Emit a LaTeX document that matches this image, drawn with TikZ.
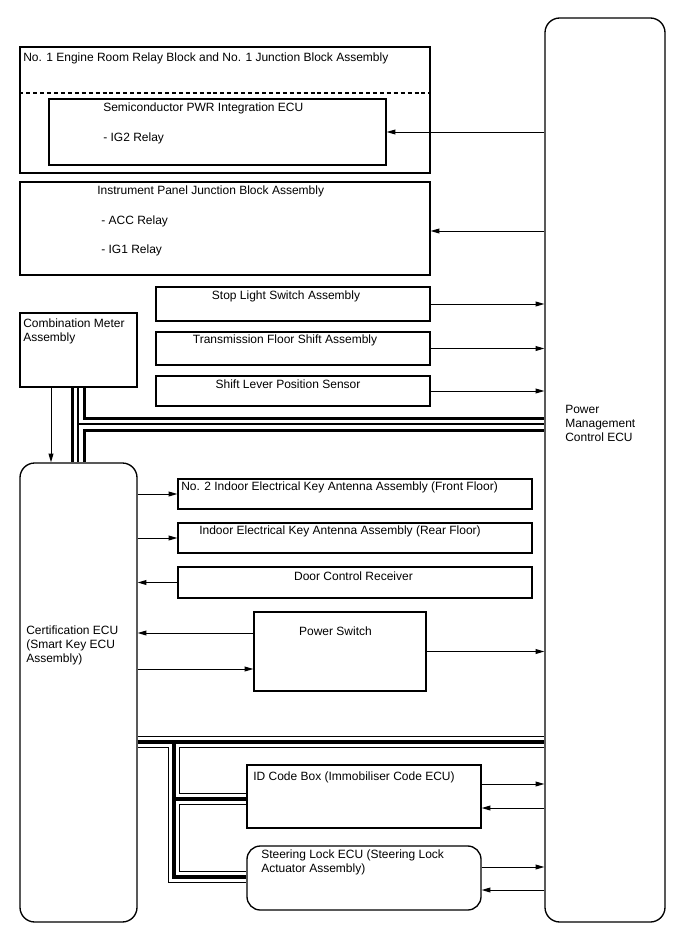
\documentclass[tikz,border=0pt]{standalone}
\usepackage{fontspec}
\setmainfont{Liberation Sans}
\usepackage{tikz}
\usetikzlibrary{positioning,arrows.meta,fit,backgrounds,calc}
\tikzset{
  unit/.style={draw,line width=1pt,inner sep=0pt},
  ecu/.style={unit,rounded corners=11pt},
  lbl/.style={inner sep=0pt,align=left},
  wire/.style={->,line width=0.75pt},
}

\begin{document}
\begin{tikzpicture}[x=0.75pt,y=-0.75pt,font=\fontsize{9}{10.5}\selectfont,
    >={Triangle[length=6.5pt,width=3.6pt]}]
  \useasboundingbox (0,0) rectangle (688,949);
  % power management ECU on the right
  \node[ecu,fit={(545,18) (665,922)}] (pmc) {};
  \node[lbl,anchor=west] (pmclbl) at (565,423) {Power\\Management\\Control ECU};
  % relay blocks
  \node[unit,fit={(20,47) (430,173)}] (erb) {};
  \node[lbl,anchor=west] (erblbl) at (23,58) {No. 1 Engine Room Relay Block and No. 1 Junction Block Assembly};
  \draw[dash pattern=on 3pt off 2.2pt,line width=0.8pt] (erb.west |- 0,93) -- (erb.east |- 0,93);
  \node[unit,fit={(49,99) (386,165)}] (semi) {};
  \node[lbl,anchor=west] (semilbl) at (103,108) {Semiconductor PWR Integration ECU};
  \node[lbl,anchor=west] (ig2) at (103,138) {- IG2 Relay};
  \node[unit,fit={(20,182) (430,275)}] (ipjb) {};
  \node[lbl,anchor=west] (ipjblbl) at (97,191) {Instrument Panel Junction Block Assembly};
  \node[lbl,anchor=west] (acc) at (101,221) {- ACC Relay};
  \node[lbl,anchor=west] (ig1) at (101,250) {- IG1 Relay};
  % switches and sensors
  \node[unit,fit={(156,287) (430,321)}] (stop) {};
  \node[lbl] (stoplbl) at (286,296) {Stop Light Switch Assembly};
  \node[unit,fit={(156,332) (430,365)}] (trans) {};
  \node[lbl] (translbl) at (285,340) {Transmission Floor Shift Assembly};
  \node[unit,fit={(156,376) (430,406)}] (shift) {};
  \node[lbl] (shiftlbl) at (288,384) {Shift Lever Position Sensor};
  \node[unit,fit={(20,313) (137,387)}] (meter) {};
  \node[lbl,anchor=west] (meterlbl) at (23,331) {Combination Meter\\Assembly};
  % certification ECU and its parts
  \node[ecu,fit={(20,463) (137,922)}] (cert) {};
  \node[lbl,anchor=west] (certlbl) at (26,645) {Certification ECU\\(Smart Key ECU\\Assembly)};
  \node[unit,fit={(178,479) (532,509)}] (ant2) {};
  \node[lbl,anchor=west] (ant2lbl) at (181,487) {No. 2 Indoor Electrical Key Antenna Assembly (Front Floor)};
  \node[unit,fit={(178,523) (532,553)}] (ant1) {};
  \node[lbl] (ant1lbl) at (340,531) {Indoor Electrical Key Antenna Assembly (Rear Floor)};
  \node[unit,fit={(178,567) (532,598)}] (dcr) {};
  \node[lbl] (dcrlbl) at (353.5,576) {Door Control Receiver};
  \node[unit,fit={(254,612) (426,691)}] (psw) {};
  \node[lbl] (pswlbl) at (335.5,631) {Power Switch};
  \node[unit,fit={(247,765) (481,828)}] (idbox) {};
  \node[lbl,anchor=west] (idlbl) at (253,777) {ID Code Box (Immobiliser Code ECU)};
  \node[unit,rounded corners=10pt,fit={(247,846) (481,910)}] (slock) {};
  \node[lbl,anchor=west] (slocklbl) at (261,862) {Steering Lock ECU (Steering Lock\\Actuator Assembly)};

  % communication lines, drawn in layers
  \begin{scope}[on background layer]
    \foreach \w/\c in {15/black,9/white,1.2/black}
      \draw[line width=\w*0.75pt,\c] (meter.south -| 78,0) -- (cert.north -| 78,0)
        (78,424) -- (pmc.west |- 0,424);
    \foreach \w/\c in {12/black,10/white,3.3/black}
      \draw[line width=\w*0.75pt,\c] (cert.east |- 0,742) -- (pmc.west |- 0,742)
        (174,742) -- (174,877) -- (slock.west |- 0,877)
        (174,799) -- (idbox.west |- 0,799);
  \end{scope}

  % signal lines
  \draw[wire] (pmc.west |- semi.east) -- (semi.east);
  \draw[wire] (pmc.west |- 0,231) -- (ipjb.east |- 0,231);
  \draw[wire] (stop.east) -- (pmc.west |- stop.east);
  \draw[wire] (trans.east) -- (pmc.west |- trans.east);
  \draw[wire] (shift.east) -- (pmc.west |- shift.east);
  \draw[wire] (meter.south -| 51,0) -- (cert.north -| 51,0);
  \draw[wire] (cert.east |- ant2.west) -- (ant2.west);
  \draw[wire] (cert.east |- ant1.west) -- (ant1.west);
  \draw[wire] (dcr.west) -- (cert.east |- dcr.west);
  \draw[wire] (psw.west |- 0,633) -- (cert.east |- 0,633);
  \draw[wire] (cert.east |- 0,669) -- (psw.west |- 0,669);
  \draw[wire] (psw.east) -- (pmc.west |- psw.east);
  \draw[wire] (idbox.east |- 0,784) -- (pmc.west |- 0,784);
  \draw[wire] (pmc.west |- 0,808) -- (idbox.east |- 0,808);
  \draw[wire] (slock.east |- 0,867) -- (pmc.west |- 0,867);
  \draw[wire] (pmc.west |- 0,890) -- (slock.east |- 0,890);
\end{tikzpicture}
\end{document}
